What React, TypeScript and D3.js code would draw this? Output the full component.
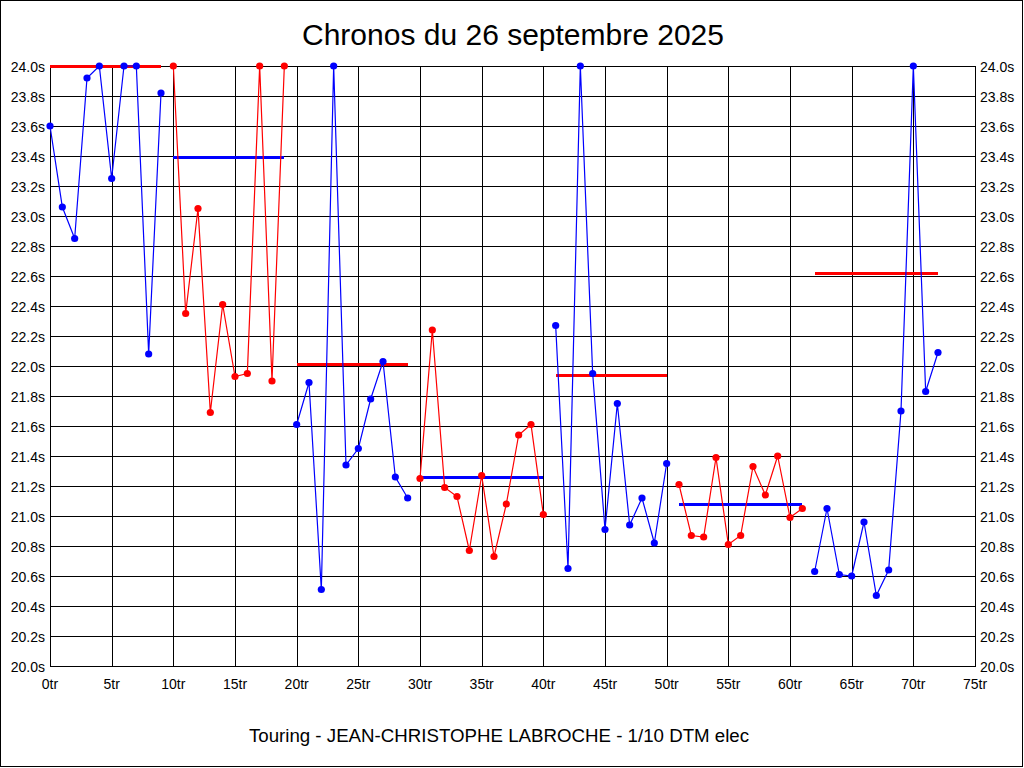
import React from "react";
import * as d3 from "d3";

const title = "Chronos du 26 septembre 2025";
const footer = "Touring - JEAN-CHRISTOPHE LABROCHE - 1/10 DTM elec";

// lap times (s), lap index = position (0..72); values above 24.0 are shown clipped at 24.0
const lapTimes: number[] = [
  23.6, 23.06, 22.85, 23.92, 24.0, 23.25, 24.0, 24.0, 22.08, 23.82,
  24.0, 22.35, 23.05, 21.69, 22.41, 21.93, 21.95, 24.0, 21.9, 24.0,
  21.61, 21.89, 20.51, 24.0, 21.34, 21.45, 21.78, 22.03, 21.26, 21.12,
  21.25, 22.24, 21.19, 21.13, 20.77, 21.27, 20.73, 21.08, 21.54, 21.61, 21.01,
  22.27, 20.65, 24.0, 21.95, 20.91, 21.75, 20.94, 21.12, 20.82, 21.35,
  21.21, 20.87, 20.86, 21.39, 20.81, 20.87, 21.33, 21.14, 21.4, 20.99, 21.05,
  20.63, 21.05, 20.61, 20.6, 20.96, 20.47, 20.64, 21.7, 24.0, 21.83, 22.09,
];

// stints: first and last lap
const stintStart: number[] = [0, 10, 20, 30, 41, 51, 62];
const stintEnd: number[] = [9, 19, 29, 40, 50, 61, 72];
// average per stint (clipped at 24.0)
const stintAvg: number[] = [24.0, 23.39, 22.01, 21.26, 21.94, 21.08, 22.62];
const stintColor: string[] = ["#0000FF", "#FF0000", "#0000FF", "#FF0000", "#0000FF", "#FF0000", "#0000FF"];
const avgColor: string[] = ["#FF0000", "#0000FF", "#FF0000", "#0000FF", "#FF0000", "#0000FF", "#FF0000"];

const yTicks: number[] = d3.range(0, 21).map((i) => 20 + i * 0.2);
const xTicks: number[] = d3.range(0, 16).map((i) => i * 5);

const W = 1024;
const H = 768;
const left = 50;
const right = 975;
const top = 66;
const bottom = 666;

const font = "Arial, 'Liberation Sans', sans-serif";

export default function App() {
  const x = d3.scaleLinear().domain([0, 75]).range([left, right]);
  const y = d3.scaleLinear().domain([20, 24]).range([bottom, top]);
  const line = d3
    .line<number>()
    .x((d) => x(d))
    .y((d) => y(Math.min(24, lapTimes[d])));

  return (
    <svg
      width={W}
      height={H}
      style={{ position: "absolute", left: 0, top: 0, background: "#fff" }}
      fontFamily={font}
    >
      <rect x={0} y={0} width={W} height={H} fill="#fff" />
      <rect x={0.5} y={0.5} width={1022} height={766} fill="none" stroke="#000" strokeWidth={1} />
      <text x={513} y={45} textAnchor="middle" fontSize={30} fill="#000">
        {title}
      </text>

      {/* grid */}
      <g shapeRendering="crispEdges" stroke="#000" strokeWidth={1}>
        {yTicks.map((t, i) => (
          <line key={"h" + i} x1={left} x2={right} y1={Math.round(y(t)) + 0.5} y2={Math.round(y(t)) + 0.5} />
        ))}
        {xTicks.map((t, i) => (
          <line key={"v" + i} x1={Math.round(x(t)) + 0.5} x2={Math.round(x(t)) + 0.5} y1={top} y2={bottom + 1} />
        ))}
      </g>

      {/* y labels */}
      {yTicks.map((t, i) => (
        <g key={"yl" + i} fontSize={14} fill="#000">
          <text x={45} y={y(t) + 5.5} textAnchor="end">
            {t.toFixed(1) + "s"}
          </text>
          <text x={980} y={y(t) + 5.5} textAnchor="start">
            {t.toFixed(1) + "s"}
          </text>
        </g>
      ))}
      {/* x labels */}
      {xTicks.map((t, i) => (
        <text key={"xl" + i} x={x(t)} y={689} textAnchor="middle" fontSize={14} fill="#000">
          {t + "tr"}
        </text>
      ))}

      {/* average lines */}
      {stintAvg.map((a, i) => (
        <line
          key={"avg" + i}
          x1={x(stintStart[i])}
          x2={x(stintEnd[i])}
          y1={y(a)}
          y2={y(a)}
          stroke={avgColor[i]}
          strokeWidth={3}
          shapeRendering="crispEdges"
        />
      ))}

      {/* stints */}
      {stintStart.map((s, i) => {
        const laps = d3.range(s, stintEnd[i] + 1);
        return (
          <g key={"st" + i}>
            <path d={line(laps) || ""} fill="none" stroke={stintColor[i]} strokeWidth={1.2} />
            {laps.map((l) => (
              <circle key={l} cx={x(l)} cy={y(Math.min(24, lapTimes[l]))} r={3.6} fill={stintColor[i]} />
            ))}
          </g>
        );
      })}

      <text x={499} y={742} textAnchor="middle" fontSize={18.7} fill="#000">
        {footer}
      </text>
    </svg>
  );
}
